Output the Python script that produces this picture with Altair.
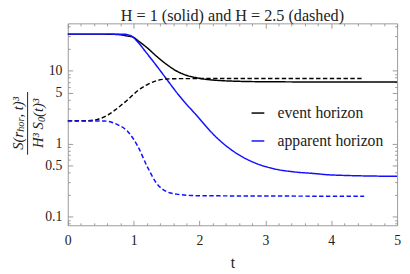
import altair as alt
import pandas as pd

# ---- data ----
# H = 1, event horizon (solid black)
t_ev1 = [0, 0.5, 0.76, 0.9, 1.0, 1.06, 1.2, 1.35, 1.5, 1.65, 1.8, 1.95, 2.1, 2.25, 2.5, 3.0, 4.0, 5.0]
v_ev1 = [31.7, 31.7, 31.3, 29.9, 28.6, 26.0, 20.8, 15.7, 12.2, 9.9, 8.65, 8.02, 7.6, 7.38, 7.19, 7.05, 7.0, 7.0]
# H = 1, apparent horizon (solid blue)
t_ap1 = [0, 0.5, 0.85, 0.95, 1.0, 1.06, 1.2, 1.35, 1.5, 1.65, 1.75, 1.95, 2.24, 2.54, 2.84, 3.14, 3.43, 3.73, 4.0, 5.0]
v_ap1 = [31.7, 31.7, 31.6, 30.4, 28.3, 24.9, 17.3, 11.6, 7.66, 5.07, 3.93, 2.47, 1.26, 0.757, 0.545, 0.45, 0.41, 0.39, 0.372, 0.356]
# H = 2.5, event horizon (dashed black)
t_ev25 = [0, 0.3, 0.46, 0.61, 0.71, 0.8, 0.91, 1.0, 1.06, 1.2, 1.35, 1.5, 1.7, 4.5]
v_ev25 = [2.05, 2.06, 2.16, 2.47, 2.85, 3.3, 4.0, 4.75, 5.3, 6.4, 7.3, 7.68, 7.78, 7.8]
# H = 2.5, apparent horizon (dashed blue)
t_ap25 = [0, 0.56, 0.76, 0.91, 1.06, 1.21, 1.35, 1.5, 1.65, 2.0, 4.5]
v_ap25 = [2.05, 2.04, 1.81, 1.47, 0.93, 0.477, 0.285, 0.22, 0.203, 0.193, 0.19]

kinds = ["event horizon", "apparent horizon"]
Hs = ["1", "2.5"]

x_major = [0, 1, 2, 3, 4, 5]
x_minor = [0.2, 0.4, 0.6, 0.8, 1.2, 1.4, 1.6, 1.8, 2.2, 2.4, 2.6, 2.8,
           3.2, 3.4, 3.6, 3.8, 4.2, 4.4, 4.6, 4.8]
y_major = [0.1, 0.5, 1, 5, 10]
y_minor = [0.08, 0.09, 0.2, 0.3, 0.4, 0.6, 0.7, 0.8, 0.9, 2, 3, 4, 6, 7, 8, 9, 20, 30, 40]

title_text = "H = 1 (solid) and H = 2.5 (dashed)"
# y-axis label: S(r_hor, t)^3 / (H^3 S_0(t)^3), built from pieces
num_parts = ["S(r", "hor", ", t)³"]
den_parts = ["H³ S", "0", "(t)³"]

rows = []
for tt, vv, k, h in [(t_ev1, v_ev1, kinds[0], Hs[0]), (t_ap1, v_ap1, kinds[1], Hs[0]),
                     (t_ev25, v_ev25, kinds[0], Hs[1]), (t_ap25, v_ap25, kinds[1], Hs[1])]:
    for a, b in zip(tt, vv):
        rows.append({"t": a, "v": b, "kind": k, "H": h})
df = pd.DataFrame(rows)

FONT = "'Liberation Serif', 'Times New Roman', 'DejaVu Serif', serif"
TICK = "#9a9a9a"
INK = "#222222"

xs = alt.Scale(domain=[0, 5], nice=False, zero=False)
ys = alt.Scale(type="log", domain=[0.076, 44.5], nice=False)

common = dict(domain=False, grid=False, tickColor=TICK, tickWidth=1,
              labelFont=FONT, labelFontSize=14, labelColor=INK,
              labelOverlap=False, labelFlush=False, format="~g")

lines = alt.Chart(df).mark_line(strokeWidth=1.5, interpolate="monotone").encode(
    x=alt.X("t:Q", scale=xs, axis=alt.Axis(orient="bottom", values=x_major, offset=-5, tickSize=5,
                                            labelPadding=9, title="t", titleFont=FONT,
                                            titleFontSize=16, titleFontWeight="normal",
                                            titleColor=INK, titlePadding=7, **common)),
    y=alt.Y("v:Q", scale=ys, axis=alt.Axis(orient="left", values=y_major, offset=-5, tickSize=5,
                                            labelPadding=6, title="", **common)),
    color=alt.Color("kind:N", scale=alt.Scale(domain=kinds, range=["#000000", "#1010ff"]),
                    legend=alt.Legend(orient="none", legendX=186, legendY=83.5, title=None,
                                      symbolType="stroke", symbolSize=169, symbolStrokeWidth=1.5,
                                      labelFont=FONT, labelFontSize=16, labelColor=INK,
                                      labelOffset=12, rowPadding=12.5)),
    strokeDash=alt.StrokeDash("H:N", scale=alt.Scale(domain=Hs, range=[[1, 0], [4.5, 2.5]]),
                              legend=None),
)

def axis_layer(xo, yo, xv, yv, off, size):
    base = dict(domain=False, grid=False, tickColor=TICK, tickWidth=1, labels=False, title="")
    return alt.Chart(df).mark_point(opacity=0, size=1).encode(
        x=alt.X("t:Q", scale=xs, axis=alt.Axis(orient=xo, values=xv, offset=off, tickSize=size, **base)),
        y=alt.Y("v:Q", scale=ys, axis=alt.Axis(orient=yo, values=yv, offset=off, tickSize=size, **base)),
    )

minor_bl = axis_layer("bottom", "left", x_minor, y_minor, -2.5, 2.5)
major_tr = axis_layer("top", "right", x_major, y_major, -5, 5)
minor_tr = axis_layer("top", "right", x_minor, y_minor, -2.5, 2.5)

one = pd.DataFrame({"a": [0]})
FS = 15.0
SUB = 10.5

def piece(txt, size, xpix, ypix):
    return alt.Chart(one).mark_text(text=txt, angle=270, font=FONT, fontSize=size, fontStyle="italic",
                                    align="left", baseline="middle", color=INK).encode(
        x=alt.value(xpix), y=alt.value(ypix))

# numerator (rotated, reading upward), centred near page y 123
num_w = [1.222 * FS, 1.389 * SUB, 1.41 * FS]
num_x = -51
num_y0 = 102 + sum(num_w) / 2
num = [piece(num_parts[0], FS, num_x, num_y0),
       piece(num_parts[1], SUB, num_x + 3.5, num_y0 - num_w[0]),
       piece(num_parts[2], FS, num_x, num_y0 - num_w[0] - num_w[1])]
den_w = [1.772 * FS, 0.5 * SUB, 1.244 * FS]
den_x = -30
den_y0 = 102 + sum(den_w) / 2
den = [piece(den_parts[0], FS, den_x, den_y0),
       piece(den_parts[1], SUB, den_x + 3.5, den_y0 - den_w[0]),
       piece(den_parts[2], FS, den_x, den_y0 - den_w[0] - den_w[1])]
bar = alt.Chart(one).mark_rule(color=INK, strokeWidth=1).encode(
    x=alt.value(-41), y=alt.value(70), y2=alt.value(134))

title = alt.Chart(one).mark_text(text=title_text, font=FONT, fontSize=16.5, align="center",
                                 baseline="alphabetic", color=INK).encode(
    x=alt.value(168), y=alt.value(-2))

chart = alt.layer(lines, minor_bl, major_tr, minor_tr, *num, *den, bar, title).resolve_axis(
    x="independent", y="independent"
).properties(
    width=336, height=206,
    autosize=alt.AutoSizeParams(type="none"),
    padding={"left": 61, "top": 13, "right": 5, "bottom": 45},
).configure_view(stroke=TICK, strokeWidth=1)

chart.save("out.html", embed_options={"renderer": "svg", "actions": False})
